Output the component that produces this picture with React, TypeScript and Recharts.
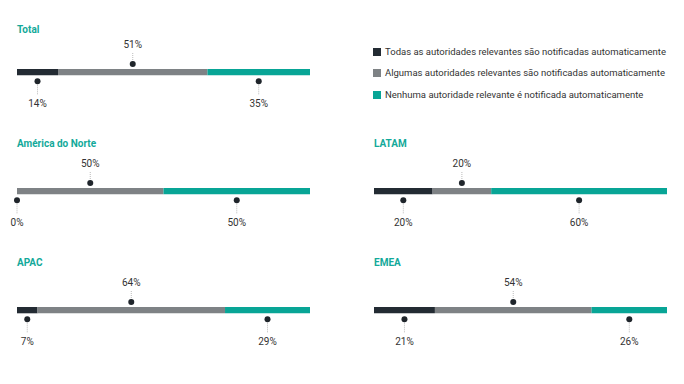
import React from "react"
import { BarChart, Bar, XAxis, YAxis, LabelList } from "recharts"

const regions = ["Total", "América do Norte", "LATAM", "APAC", "EMEA"]
const todas = [14, 0, 20, 7, 21]
const algumas = [51, 50, 20, 64, 54]
const nenhuma = [35, 50, 60, 29, 26]

const seriesNames = [
  "Todas as autoridades relevantes são notificadas automaticamente",
  "Algumas autoridades relevantes são notificadas automaticamente",
  "Nenhuma autoridade relevante é notificada automaticamente",
]
const colors = ["#232b33", "#7e8285", "#08a596"]

// panel placement: [left, title y, bar top]
const panels = [
  [17, 24, 69],
  [17, 138, 188],
  [374, 138, 188],
  [17, 257, 307],
  [374, 257, 307],
]

const BAR_W = 293
const FONT = "Roboto, 'Noto Sans', sans-serif"

function PinDown({ cx, y, height, value }: any) {
  const dy = y + height + 6
  return (
    <g>
      <line x1={cx} x2={cx} y1={dy} y2={dy + 13} stroke="#bbb" strokeWidth={1} strokeDasharray="1 1" />
      <circle cx={cx} cy={dy} r={3} fill="#1f252b" />
      <text x={cx} y={y + height + 32} textAnchor="middle" fontSize={10} fill="#333" fontFamily={FONT}>
        {value}%
      </text>
    </g>
  )
}

function PinUp({ cx, y, value }: any) {
  const dy = y - 5
  return (
    <g>
      <line x1={cx} x2={cx} y1={dy} y2={y - 17} stroke="#bbb" strokeWidth={1} strokeDasharray="1 1" />
      <circle cx={cx} cy={dy} r={3} fill="#1f252b" />
      <text x={cx} y={y - 21} textAnchor="middle" fontSize={10} fill="#333" fontFamily={FONT}>
        {value}%
      </text>
    </g>
  )
}

function Panel({ i }: { i: number }) {
  const [left, titleY, barTop] = panels[i]
  const data = [{ name: regions[i], todas: todas[i], algumas: algumas[i], nenhuma: nenhuma[i] }]

  const downLabel = (props: any) => {
    const { x, y, width, height, value } = props
    return <PinDown cx={x + width / 2} y={y} height={height} value={value} />
  }
  // middle series pin goes up; a zero-width first segment gets its pin drawn here (recharts skips it)
  const upLabel = (props: any) => {
    const { x, y, width, height, value } = props
    return (
      <g>
        <PinUp cx={x + width / 2} y={y} value={value} />
        {todas[i] === 0 && <PinDown cx={x} y={y} height={height} value={todas[i]} />}
      </g>
    )
  }

  return (
    <>
      <div
        style={{
          position: "absolute",
          left,
          top: titleY,
          fontFamily: FONT,
          fontSize: 10,
          fontWeight: 700,
          color: "#13a99a",
        }}
      >
        {regions[i]}
      </div>
      <div style={{ position: "absolute", left: left - 10, top: barTop - 30 }}>
        <BarChart
          width={BAR_W + 20}
          height={70}
          data={data}
          layout="vertical"
          margin={{ top: 30, right: 10, left: 10, bottom: 33 }}
        >
          <XAxis type="number" domain={[0, 100]} hide />
          <YAxis type="category" dataKey="name" hide />
          <Bar dataKey="todas" stackId="a" fill={colors[0]} barSize={7} isAnimationActive={false}>
            <LabelList dataKey="todas" content={downLabel} />
          </Bar>
          <Bar dataKey="algumas" stackId="a" fill={colors[1]} barSize={7} isAnimationActive={false}>
            <LabelList dataKey="algumas" content={upLabel} />
          </Bar>
          <Bar dataKey="nenhuma" stackId="a" fill={colors[2]} barSize={7} isAnimationActive={false}>
            <LabelList dataKey="nenhuma" content={downLabel} />
          </Bar>
        </BarChart>
      </div>
    </>
  )
}

export default function App() {
  return (
    <div style={{ position: "fixed", left: 0, top: 0, width: 684, height: 384, background: "#fff" }}>
      {regions.map((_, i) => (
        <Panel key={i} i={i} />
      ))}
      {seriesNames.map((s, k) => (
        <div
          key={s}
          style={{
            position: "absolute",
            left: 373,
            top: [46, 67, 89][k],
            display: "flex",
            alignItems: "center",
            fontFamily: FONT,
            fontSize: 9.5,
            color: "#333",
            whiteSpace: "nowrap",
          }}
        >
          <span style={{ width: 8, height: 8, background: colors[k], marginRight: 4, display: "inline-block" }} />
          {s}
        </div>
      ))}
    </div>
  )
}
